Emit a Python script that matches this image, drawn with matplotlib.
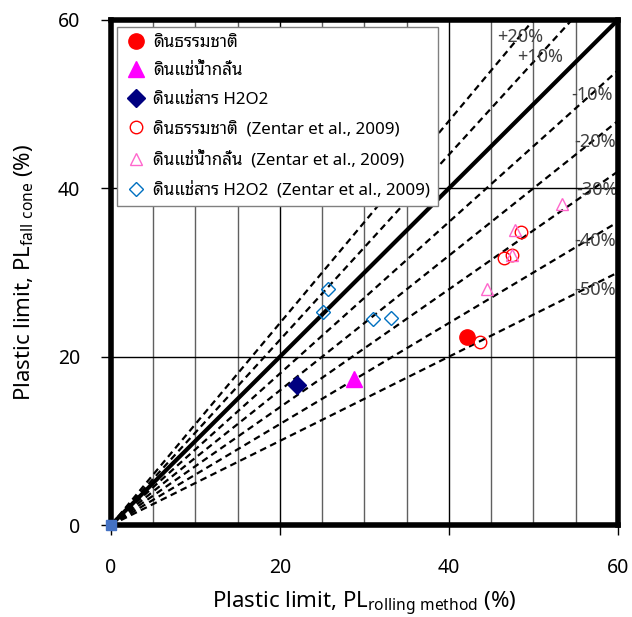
import numpy as np
import matplotlib
matplotlib.use("Agg")
import matplotlib.pyplot as plt

plt.rcParams['font.family'] = ['Noto Sans Thai Looped', 'Noto Sans', 'DejaVu Sans']
plt.rcParams['mathtext.default'] = 'regular'

# ข้อมูลจากการทดลอง
natural_x = [42.2]
natural_y = [22.3]
water_x = [28.8]
water_y = [17.3]
h2o2_x = [22.0]
h2o2_y = [16.6]

# ข้อมูล Zentar et al., 2009
z_natural_x = [43.7, 48.5, 46.5, 47.5]
z_natural_y = [21.7, 34.8, 31.7, 32.1]
z_water_x = [53.4, 47.8, 47.5, 44.5]
z_water_y = [38.2, 35.0, 32.1, 28.0]
z_h2o2_x = [25.7, 25.1, 31.0, 33.1]
z_h2o2_y = [28.0, 25.3, 24.5, 24.6]

origin_x = [0]
origin_y = [0]

labels = ['ดินธรรมชาติ', 'ดินแช่น้ำกลั่น', 'ดินแช่สาร H2O2',
          'ดินธรรมชาติ  (Zentar et al., 2009)',
          'ดินแช่น้ำกลั่น  (Zentar et al., 2009)',
          'ดินแช่สาร H2O2  (Zentar et al., 2009)']

# เส้นความคลาดเคลื่อน
deviations = [20, 10, -10, -20, -30, -40, -50]
dev_text = ['+20%', '+10%', '-10%', '-20%', '-30%', '-40%', '-50%']
dev_text_pos = [(48.4, 58.0), (50.8, 55.6), (56.9, 51.1), (57.3, 45.5),
                (57.5, 39.8), (57.3, 33.8), (57.3, 27.9)]

fig = plt.figure(figsize=(6.32, 6.17), dpi=100)
ax = fig.add_axes([0.1756, 0.149, 0.802, 0.8186])

# เส้นกริด
for gx in np.arange(5, 60, 5):
    c = 'black' if gx % 20 == 0 else '#606060'
    ax.axvline(gx, color=c, lw=1.0, zorder=1)
for gy in [20, 40]:
    ax.axhline(gy, color='black', lw=1.0, zorder=1)

xs = np.array([0, 60])
for d in deviations:
    ax.plot(xs, xs * (1 + d / 100), color='black', lw=1.6, ls=(0, (3, 2)), zorder=2)
ax.plot(xs, xs, color='black', lw=3, zorder=2)

for t, (tx, ty) in zip(dev_text, dev_text_pos):
    ax.text(tx, ty, t, ha='center', va='center', fontsize=13, color='#404040', zorder=3)

ax.plot(natural_x, natural_y, 'o', color='red', ms=11, label=labels[0], zorder=5)
ax.plot(water_x, water_y, '^', color='#FF00FF', ms=11, label=labels[1], zorder=5)
ax.plot(h2o2_x, h2o2_y, 'D', color='#000080', ms=9, label=labels[2], zorder=5)
ax.plot(z_natural_x, z_natural_y, 'o', mfc='none', mec='red', mew=1.0, ms=9, label=labels[3], zorder=4)
ax.plot(z_water_x, z_water_y, '^', mfc='none', mec='#FF66CC', mew=1.0, ms=9, label=labels[4], zorder=4)
ax.plot(z_h2o2_x, z_h2o2_y, 'D', mfc='none', mec='#0070C0', mew=1.0, ms=7, label=labels[5], zorder=4)
ax.plot(origin_x, origin_y, 's', color='#4472C4', ms=7, clip_on=False, zorder=10)

ax.set_xlim(0, 60)
ax.set_ylim(0, 60)
ax.set_xticks([0, 20, 40, 60])
ax.set_yticks([0, 20, 40, 60])
ax.tick_params(labelsize=14, length=7, width=1, direction='out')
ax.tick_params(axis='x', pad=17)
ax.tick_params(axis='y', pad=15)
for s in ax.spines.values():
    s.set_linewidth(4)
    s.set_zorder(7)

ax.set_xlabel('Plastic limit, PL$_{rolling\ method}$ (%)', fontsize=16, labelpad=8)
ax.set_ylabel('Plastic limit, PL$_{fall\ cone}$ (%)', fontsize=16, labelpad=16)

leg = ax.legend(loc='upper left', bbox_to_anchor=(0.012, 0.986), borderaxespad=0,
                fontsize=12.2, frameon=True, fancybox=False, edgecolor='#808080', framealpha=1,
                handletextpad=0.4, borderpad=0.45, labelspacing=0.75, handlelength=1.3)
leg.get_frame().set_linewidth(1.0)
leg.set_zorder(8)

fig.savefig('out.png', dpi=100)
